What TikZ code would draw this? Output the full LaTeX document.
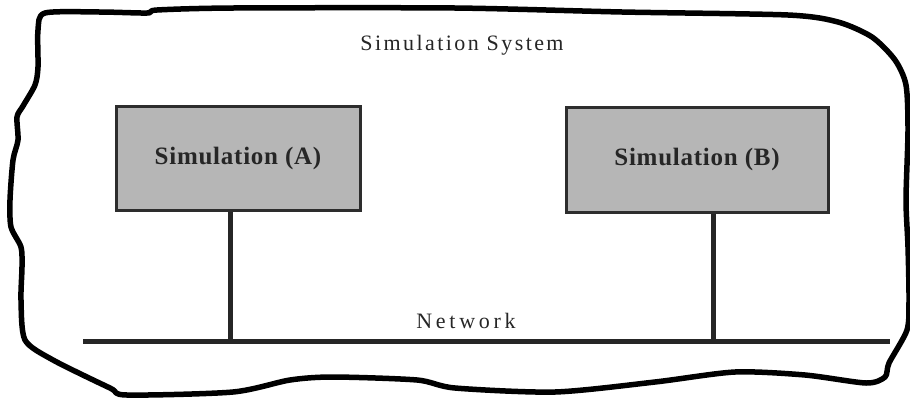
\documentclass[tikz,border=0pt]{standalone}
\usepackage{fontspec}
\setmainfont{Liberation Serif}
\newfontfamily\titlefont[LetterSpace=11]{Liberation Serif}
\newfontfamily\netfont[LetterSpace=17]{Liberation Serif}
\newfontfamily\boxfont[LetterSpace=3]{Liberation Serif}
\definecolor{boxgray}{RGB}{182,182,182}
\definecolor{boxedge}{RGB}{45,45,45}
\begin{document}
\begin{tikzpicture}[x=1pt,y=-1pt,
  simbox/.style={draw=boxedge,line width=3pt,fill=boxgray,inner sep=0pt,
    font=\boxfont\fontsize{25}{28}\selectfont\bfseries,text=black!85},
  wire/.style={line width=5pt,draw=black!85},
  blob/.style={line width=5.5pt,draw=black,line join=round},
  lbl/.style={text=black!85,inner sep=0pt}]
\useasboundingbox (0,0) rectangle (910,400);
\fill[white] (0,0) rectangle (910,400);
% enclosing outline
\draw[blob] plot[smooth cycle,tension=0.45] coordinates{
 (45,13) (100,12) (147,13) (157,10) (233,8) (455,8) (622,12) (788,15) (838,22)
 (872,37) (895,60) (906,85) (908,130) (906,200) (908,247) (909,300) (907,330)
 (889,363) (885,377) (866,383) (805,375) (735,372) (655,382) (555,392) (455,388)
 (417,380) (333,377) (290,380) (233,392) (127,395) (110,388) (53,360) (25,340)
 (21,300) (22,267) (21,247) (11,227) (10,200) (13,160) (18,140) (17,117)
 (23,106) (35,85) (38,67) (38,30)};
\node[lbl,anchor=base,font=\titlefont\fontsize{22}{24}\selectfont] (title) at (462,50) {Simulation System};
\node[simbox,minimum width=244pt,minimum height=104pt] (A) at (238,158) {Simulation (A)};
\node[simbox,minimum width=262pt,minimum height=105pt] (B) at (697,159.5) {Simulation (B)};
\coordinate (netL) at (83,341);
\coordinate (netR) at (890,341);
\coordinate (ja) at (230,341);
\coordinate (jb) at (713,341);
\draw[wire] (netL) -- (netR);
\draw[wire] (ja |- A.south) -- (ja);
\draw[wire] (jb |- B.south) -- (jb);
\node[lbl,anchor=base,font=\netfont\fontsize{22}{24}\selectfont] (net) at (466,328) {Network};
\end{tikzpicture}
\end{document}
